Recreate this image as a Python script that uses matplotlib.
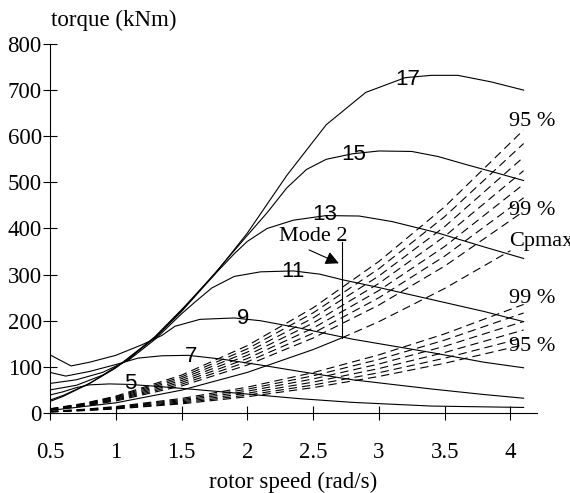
import matplotlib
matplotlib.use('Agg')

import matplotlib.pyplot as plt

plt.rcParams['font.family'] = ['Liberation Serif', 'DejaVu Serif']

# torque (kNm) vs rotor speed (rad/s) for each wind speed (m/s)
speed_5 = [0.5, 0.6, 0.7, 0.8, 0.95, 1.1, 1.3, 1.6, 2.0, 2.4, 2.8, 3.4, 4.1]
torque_5 = [39, 46, 55, 61, 63, 62, 58, 51, 41, 31, 23, 15, 12]

speed_7 = [0.5, 0.62, 0.8, 1.0, 1.17, 1.35, 1.55, 1.8, 2.1, 2.4, 2.8, 3.4, 3.8, 4.1]
torque_7 = [88, 80, 90, 105, 119, 124, 125, 117, 104, 90, 72, 52, 40, 32]

speed_9 = [0.5, 0.66, 0.8, 1.0, 1.2, 1.35, 1.45, 1.64, 1.9, 2.1, 2.4, 2.8, 3.4, 3.8, 4.1]
torque_9 = [126, 102, 110, 125, 148, 168, 188, 203, 206, 200, 184, 160, 131, 110, 98]

speed_11 = [0.5, 0.7, 0.9, 1.1, 1.3, 1.5, 1.6, 1.73, 1.9, 2.1, 2.35, 2.55, 2.72, 3.0, 3.4, 3.8, 4.1]
torque_11 = [64, 72, 88, 115, 160, 215, 240, 271, 296, 306, 308, 301, 289, 272, 246, 220, 198]

speed_13 = [0.5, 0.7, 0.9, 1.1, 1.3, 1.5, 1.75, 1.9, 2.0, 2.15, 2.35, 2.6, 2.85, 3.1, 3.44, 3.8, 4.1]
torque_13 = [50, 60, 82, 117, 166, 224, 300, 345, 372, 400, 418, 428, 427, 415, 391, 360, 335]

speed_15 = [0.5, 0.6, 0.8, 1.0, 1.3, 1.5, 1.75, 2.0, 2.15, 2.3, 2.45, 2.6, 2.8, 3.0, 3.25, 3.45, 3.67, 3.9, 4.1]
torque_15 = [28, 38, 64, 98, 165, 222, 302, 385, 434, 488, 528, 550, 562, 568, 567, 556, 538, 520, 504]

speed_17 = [0.5, 0.6, 0.8, 1.0, 1.3, 1.5, 1.75, 2.0, 2.3, 2.6, 2.9, 3.2, 3.4, 3.6, 3.85, 4.1]
torque_17 = [25, 36, 64, 98, 163, 220, 300, 390, 515, 625, 695, 727, 732, 732, 718, 700]

# optimal (Cpmax) operating curve and its dashed continuation
cpmax_speed = [0.5, 1.0, 1.5, 2.0, 2.5, 2.72]
cpmax_torque = [5.5, 22, 49.5, 88, 137.5, 163]
cpmax_ext_speed = [2.72, 3.0, 3.5, 4.0]
cpmax_ext_torque = [163, 198, 270, 352]

# mode 2 switching line
mode2_speed = [2.72, 2.72]
mode2_torque = [163, 370]

# constant-Cp curves (95 % ... 99 % of Cpmax)
dash_speed = [0.5, 0.75, 1.0, 1.5, 2.0, 2.5, 3.0, 3.5, 4.1]
dash_upper = [
    [9.1, 20.5, 36.5, 82.1, 146, 228, 328.5, 447, 613.6],
    [8.7, 19.5, 34.8, 78.2, 139, 217, 312.8, 425.7, 584.1],
    [8.3, 18.6, 33.0, 74.3, 132, 206, 297, 404, 554.7],
    [7.8, 17.6, 31.3, 70.3, 125, 195, 281, 383, 525.3],
    [7.4, 16.6, 29.5, 66.4, 118, 184, 265.5, 361, 495.9],
    [6.9, 15.6, 27.8, 62.4, 111, 173, 249.8, 340, 466.5],
    [6.5, 14.6, 26.0, 58.5, 104, 162.5, 234, 318.5, 437.1],
]
dash_lower = [
    [3.5, 7.9, 14.0, 31.5, 56, 87.5, 126, 171.5, 235.3],
    [3.2, 7.3, 12.9, 29.0, 51.6, 80.6, 116.1, 158, 216.8],
    [3.0, 6.6, 11.8, 26.6, 47.2, 73.8, 106.2, 144.6, 198.4],
    [2.7, 6.0, 10.7, 24.1, 42.8, 66.9, 96.3, 131.1, 179.9],
    [2.4, 5.5, 9.7, 21.8, 38.8, 60.6, 87.3, 118.8, 163.1],
    [2.2, 5.0, 8.8, 19.8, 35.2, 55.0, 79.2, 107.8, 147.9],
]

x_ticks = [0.5, 1, 1.5, 2, 2.5, 3, 3.5, 4]
x_tick_labels = ['0.5', '1', '1.5', '2', '2.5', '3', '3.5', '4']
y_ticks = [0, 100, 200, 300, 400, 500, 600, 700, 800]

fig = plt.figure(figsize=(5.7, 4.93), dpi=100)
ax = fig.add_axes([0.0877, 0.1623, 0.854, 0.7485])

lw = 0.8
dash = (0, (7.5, 4.5))

curves = [(speed_5, torque_5), (speed_7, torque_7), (speed_9, torque_9),
          (speed_11, torque_11), (speed_13, torque_13), (speed_15, torque_15),
          (speed_17, torque_17)]
for s, t in curves:
    ax.plot(s, t, color='black', lw=lw)

for t in dash_upper + dash_lower:
    ax.plot(dash_speed, t, color='black', lw=lw, linestyle=dash)

ax.plot(cpmax_speed, cpmax_torque, color='black', lw=lw)
ax.plot(cpmax_ext_speed, cpmax_ext_torque, color='black', lw=lw, linestyle=dash)
ax.plot(mode2_speed, mode2_torque, color='black', lw=lw)

# wind speed labels (sans serif, sitting on the curves)
wind_labels = [('5', 1.11, 64), ('7', 1.57, 122), ('9', 1.97, 204), ('11', 2.35, 307),
               ('13', 2.59, 430), ('15', 2.81, 561), ('17', 3.22, 724)]
for txt, x, y in wind_labels:
    ax.text(x, y, txt, family='Liberation Sans', fontsize=16, ha='center', va='center')

# Cp labels at the right end (Cpmax runs off the edge, as in the original)
side_labels = [('95 %', 633), ('99 %', 438), ('Cpmax', 372), ('99 %', 249), ('95 %', 144)]
for txt, y in side_labels:
    ax.text(3.99, y, txt, fontsize=16, ha='left', va='center', clip_on=False)

ax.text(2.50, 383, 'Mode 2', fontsize=16, ha='center', va='center')
ax.annotate('', xy=(2.715, 322), xytext=(2.45, 356),
            arrowprops=dict(arrowstyle='-|>', color='black', lw=lw, mutation_scale=20))

ax.set_xlim(0.5, 4.2)
ax.set_ylim(0, 800)
ax.spines['top'].set_visible(False)
ax.spines['right'].set_visible(False)
ax.spines['left'].set_linewidth(lw)
ax.spines['bottom'].set_linewidth(lw)

ax.set_xticks(x_ticks)
ax.set_xticklabels(x_tick_labels)
ax.set_yticks(y_ticks)
ax.tick_params(axis='x', direction='inout', length=10, width=lw, labelsize=16.5, pad=16)
ax.tick_params(axis='y', direction='inout', length=10, width=lw, labelsize=16.5, pad=1)

ax.set_xlabel('rotor speed (rad/s)', fontsize=16.5, labelpad=6)
fig.text(114 / 570, 1 - 20 / 493, 'torque (kNm)', fontsize=16.5, ha='center', va='center')

fig.savefig('out.png', dpi=100)
